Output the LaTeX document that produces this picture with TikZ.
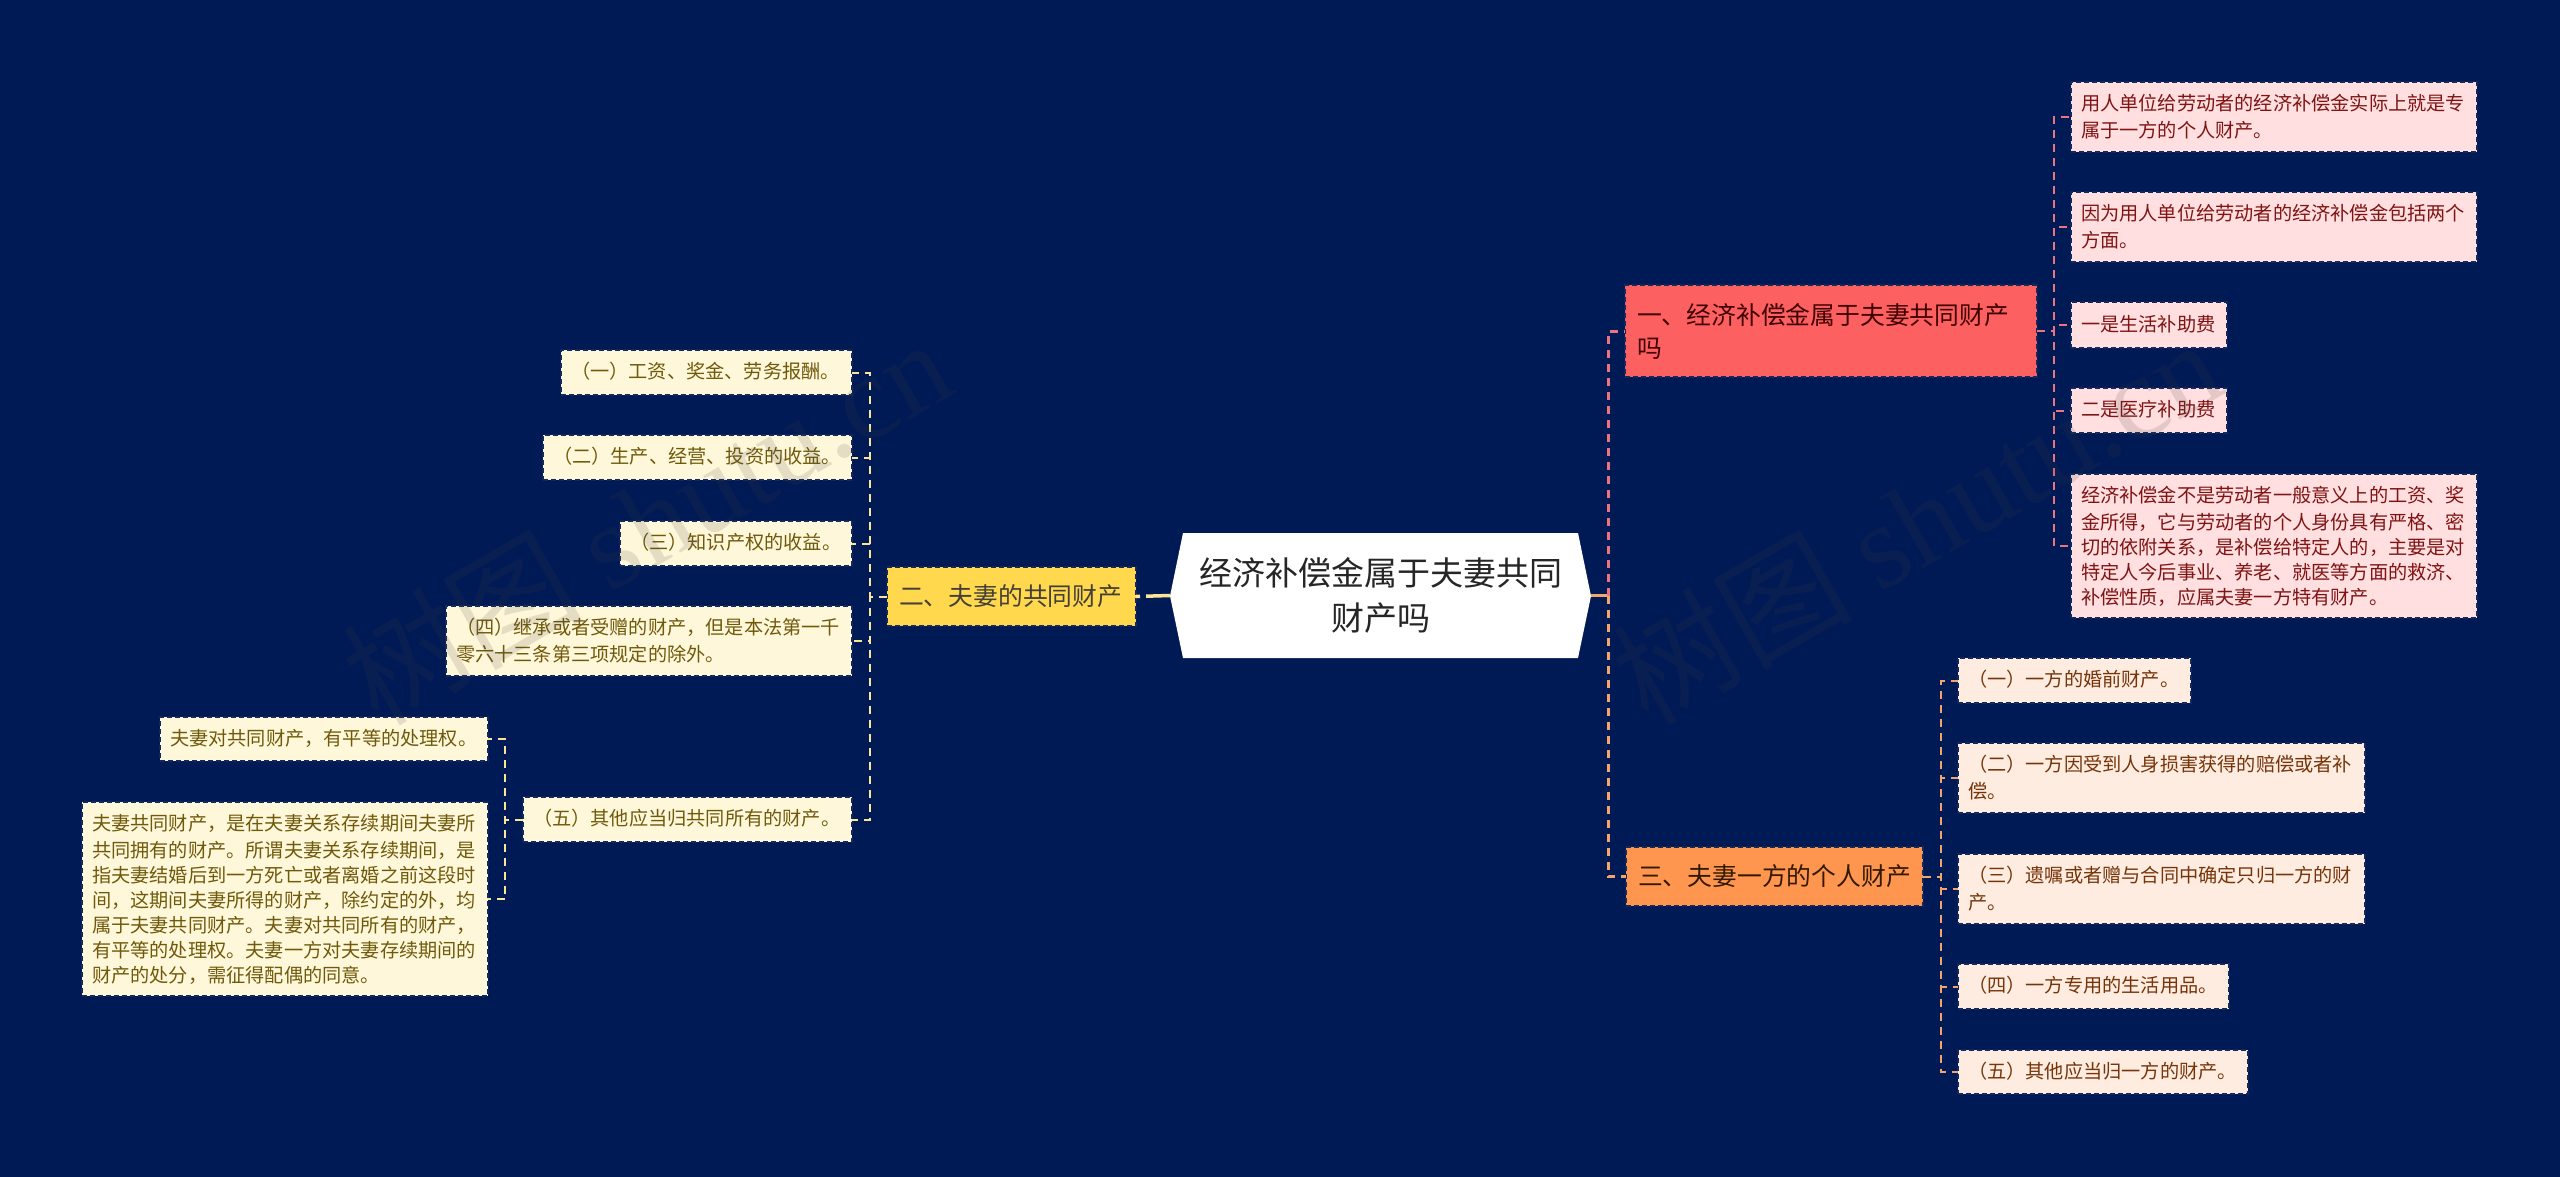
\documentclass[tikz,border=0pt]{standalone}
\usepackage{fontspec}
\setmainfont{Noto Sans CJK SC}
\newfontfamily\wmlatin{Liberation Serif}
\definecolor{bgc}{HTML}{001A56}
\definecolor{redb}{HTML}{FD6060}
\definecolor{orab}{HTML}{FF964F}
\definecolor{yelb}{HTML}{FFD84D}
\definecolor{redl}{HTML}{FFDFDF}
\definecolor{oral}{HTML}{FDECDF}
\definecolor{yell}{HTML}{FFF7D9}
\definecolor{redt}{HTML}{801414}
\definecolor{orat}{HTML}{76340A}
\definecolor{yelt}{HTML}{6F5A0C}
\definecolor{redc}{HTML}{EC7380}
\definecolor{orac}{HTML}{F4A56C}
\definecolor{yelc}{HTML}{FBE596}
\tikzset{
  x=1pt,y=-1pt,
  anybox/.style={anchor=north west,inner ysep=0pt,outer sep=0pt,align=left,draw=bgc!85!gray,line width=1.6pt,dash pattern=on 5pt off 3pt},
  leaf/.style={anybox,inner xsep=10pt,font=\fontsize{19.2}{25}\selectfont,execute at begin node={\vspace*{2pt}}},
  branch/.style={anybox,inner xsep=12pt,font=\fontsize{24.8}{33}\selectfont},
  redleaf/.style={leaf,fill=redl,text=redt},
  oraleaf/.style={leaf,fill=oral,text=orat},
  yelleaf/.style={leaf,fill=yell,text=yelt},
  conn/.style={line width=2pt,dash pattern=on 8pt off 6pt},
  trunk/.style={line width=3pt,dash pattern=on 8pt off 6pt},
  wm/.style={rotate=30,text=black!75,text opacity=.14,font=\fontsize{120}{120}\selectfont},
}
\begin{document}
\begin{tikzpicture}
\useasboundingbox (0,0) rectangle (2560,1177);
\fill[bgc] (0,0) rectangle (2560,1177);
% guide coordinates for the elbow connectors
\coordinate (vtrunk) at (1608,0);
\coordinate (vred) at (2054,0);
\coordinate (vora) at (1941,0);
\coordinate (vyel) at (870,0);
\coordinate (vsub) at (505,0);
% central hexagon
\fill[white] (1183,533) -- (1578,533) -- (1591,596) -- (1578,658) -- (1183,658) -- (1170,596) -- cycle;
\node[minimum width=421pt,minimum height=125pt,inner sep=0pt,outer sep=0pt,align=center,text=black!85,font=\fontsize{33}{45}\selectfont] (center) at (1380.5,595.5) {经济补偿金属于夫妻共同\\财产吗};
% branches
\node[branch,fill=redb,text=black!75!red,text width=388pt,minimum height=92pt] (n1) at (1625,285) {一、经济补偿金属于夫妻共同财产\\吗};
\node[branch,fill=orab,text=black!80!orange,text width=273pt,minimum height=59pt] (n3) at (1626,847) {三、夫妻一方的个人财产};
\node[branch,fill=yelb,text=black!85!yellow,text width=225pt,minimum height=59pt] (n2) at (887,567) {二、夫妻的共同财产};
% red leaves
\node[redleaf,text width=386pt,minimum height=70pt] (r1) at (2071,82) {用人单位给劳动者的经济补偿金实际上就是专\\属于一方的个人财产。};
\node[redleaf,text width=386pt,minimum height=70pt] (r2) at (2071,192) {因为用人单位给劳动者的经济补偿金包括两个\\方面。};
\node[redleaf,text width=136pt,minimum height=46pt] (r3) at (2071,302) {一是生活补助费};
\node[redleaf,text width=136pt,minimum height=45pt] (r4) at (2071,388) {二是医疗补助费};
\node[redleaf,text width=386pt,minimum height=144pt] (r5) at (2071,474) {经济补偿金不是劳动者一般意义上的工资、奖\\金所得，它与劳动者的个人身份具有严格、密\\切的依附关系，是补偿给特定人的，主要是对\\特定人今后事业、养老、就医等方面的救济、\\补偿性质，应属夫妻一方特有财产。};
% orange leaves
\node[oraleaf,text width=213pt,minimum height=45pt] (s1) at (1958,658) {（一）一方的婚前财产。};
\node[oraleaf,text width=387pt,minimum height=70pt] (s2) at (1958,743) {（二）一方因受到人身损害获得的赔偿或者补\\偿。};
\node[oraleaf,text width=387pt,minimum height=70pt] (s3) at (1958,854) {（三）遗嘱或者赠与合同中确定只归一方的财\\产。};
\node[oraleaf,text width=251pt,minimum height=45pt] (s4) at (1958,964) {（四）一方专用的生活用品。};
\node[oraleaf,text width=270pt,minimum height=44pt] (s5) at (1958,1050) {（五）其他应当归一方的财产。};
% yellow leaves
\node[yelleaf,text width=271pt,minimum height=45pt] (l1) at (561,350) {（一）工资、奖金、劳务报酬。};
\node[yelleaf,text width=289pt,minimum height=45pt] (l2) at (543,435) {（二）生产、经营、投资的收益。};
\node[yelleaf,text width=212pt,minimum height=45pt] (l3) at (620,521) {（三）知识产权的收益。};
\node[yelleaf,text width=386pt,minimum height=70pt] (l4) at (446,606) {（四）继承或者受赠的财产，但是本法第一千\\零六十三条第三项规定的除外。};
\node[yelleaf,text width=309pt,minimum height=45pt] (l5) at (523,797) {（五）其他应当归共同所有的财产。};
\node[yelleaf,text width=308pt,minimum height=44pt] (m1) at (160,717) {夫妻对共同财产，有平等的处理权。};
\node[yelleaf,text width=386pt,minimum height=194pt] (m2) at (82,802) {夫妻共同财产，是在夫妻关系存续期间夫妻所\\共同拥有的财产。所谓夫妻关系存续期间，是\\指夫妻结婚后到一方死亡或者离婚之前这段时\\间，这期间夫妻所得的财产，除约定的外，均\\属于夫妻共同财产。夫妻对共同所有的财产，\\有平等的处理权。夫妻一方对夫妻存续期间的\\财产的处分，需征得配偶的同意。};
% trunk connectors
\draw[line width=3pt,orac] (center.east) -- (center.east -| vtrunk);
\draw[trunk,redc] (center.east -| vtrunk) |- (n1.west);
\draw[trunk,orac] (center.east -| vtrunk) |- (n3.west);
\draw[line width=3.5pt,yelc,dash pattern=on 24pt off 6pt] (center.west) -- (n2.east);
% red connectors
\foreach \c in {r1,r2,r3,r4,r5}{\draw[conn,redc] (n1.east) -- (n1.east -| vred) |- (\c.west);}
% orange connectors
\foreach \c in {s1,s2,s3,s4,s5}{\draw[conn,orac] (n3.east) -- (n3.east -| vora) |- (\c.west);}
% yellow connectors
\foreach \c in {l1,l2,l3,l4,l5}{\draw[conn,yelc] (n2.west) -- (n2.west -| vyel) |- (\c.east);}
\foreach \c in {m1,m2}{\draw[conn,yelc] (l5.west) -- (l5.west -| vsub) |- (\c.east);}
% watermark
\node[wm] (wm1) at (646,520) {树图 {\wmlatin shutu.cn}};
\node[wm] (wm2) at (1916,520) {树图 {\wmlatin shutu.cn}};
\end{tikzpicture}
\end{document}
